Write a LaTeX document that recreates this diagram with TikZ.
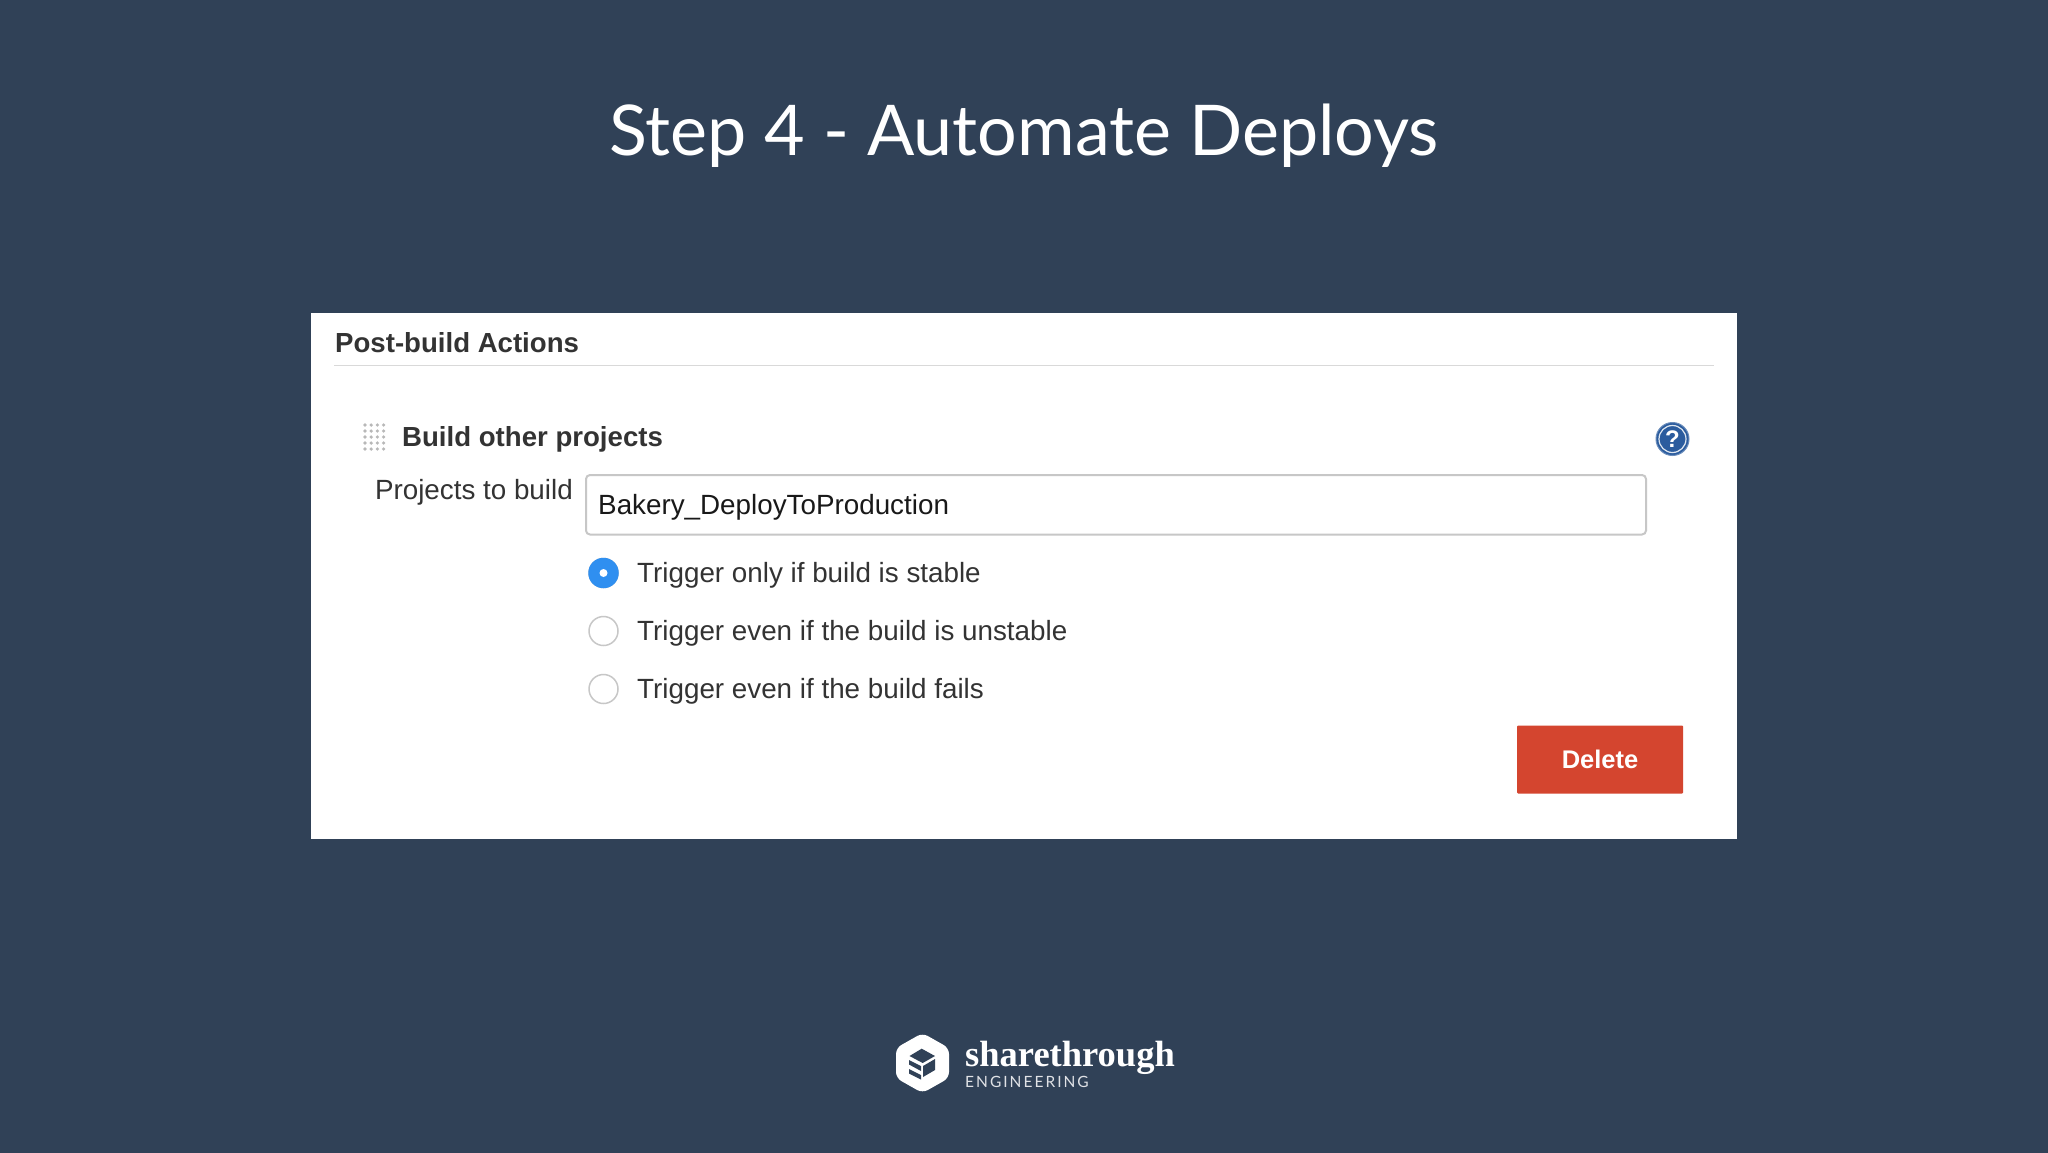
\documentclass[tikz,border=0pt]{standalone}
\usepackage{fontspec}
\setmainfont{Liberation Sans}
\newfontfamily\titlefont{Lato}
\newfontfamily\logofont{Liberation Serif}
\usetikzlibrary{positioning}
\definecolor{slidebg}{HTML}{304157}
\definecolor{formtext}{HTML}{333333}
\definecolor{radioblue}{HTML}{2F8FF0}
\definecolor{deletered}{HTML}{D4452F}
\definecolor{helpblue}{HTML}{2B5C9E}
\begin{document}
\begin{tikzpicture}[x=1pt,y=-1pt,
  label/.style={inner sep=0pt,text=formtext,font=\fontsize{27.8}{32}\selectfont},
  heading/.style={label,font=\fontsize{27.6}{32}\selectfont\bfseries},
  radio/.style={draw=black!22,line width=1.5pt,fill=white,circle,inner sep=0pt,minimum size=29pt},
  dot/.style={fill=black!28,circle,inner sep=0pt,minimum size=3.6pt}]
\useasboundingbox (0,0) rectangle (2048,1152);
\fill[slidebg] (-5,-5) rectangle (2053,1157);
\node[text=white,inner sep=0pt,anchor=base,font=\titlefont\fontsize{70}{80}\selectfont] (title) at (1024,155) {Step 4 - Automate Deploys};
\node[fill=white,inner sep=0pt,minimum width=1426pt,minimum height=525.5pt,anchor=north west] (panel) at (311,313) {};
\node[heading,anchor=base west] (actions) at (335,352) {Post-build Actions};
\coordinate (ruleL) at (334,365.5);
\coordinate (ruleR) at (1714,365.5);
\draw[black!15,line width=1.5pt] (ruleL) -- (ruleR);
\foreach \i in {0,...,3} {
  \foreach \j in {0,...,4} {
    \node[dot] (grip\i\j) at (365+6.2*\i,425+6*\j) {};
  }
}
\node[heading,anchor=base west] (build) at (402,446) {Build other projects};
\node[circle,fill=helpblue,draw=helpblue!70,line width=1pt,inner sep=0pt,minimum size=33pt] (help) at (1672.5,439) {};
\node[circle,draw=white!85!helpblue,line width=1.2pt,inner sep=0pt,minimum size=27pt,text=white,font=\fontsize{24}{24}\selectfont\bfseries] (helpring) at (help) {?};
\node[label,anchor=base east] (projects) at (573,499) {Projects to build};
\node[draw=black!22,line width=2pt,rounded corners=4pt,fill=white,minimum width=1060pt,minimum height=59.5pt,inner sep=0pt,anchor=north west] (input) at (585,474) {};
\node[label,text=black!90,anchor=base west] (project) at (598,514) {Bakery\_DeployToProduction};
\foreach \i/\y/\t in {1/573/Trigger only if build is stable,2/631/Trigger even if the build is unstable,3/689/Trigger even if the build fails} {
  \node[radio] (radio\i) at (603.5,\y) {};
  \node[label,anchor=base west] (trigger\i) at (637,\y+9) {\t};
}
\node[radio,draw=radioblue,fill=radioblue] at (radio1) {};
\node[fill=white,circle,inner sep=0pt,minimum size=8pt] (radiodot) at (radio1) {};
\node[fill=deletered,rounded corners=1pt,inner sep=0pt,minimum width=166pt,minimum height=68pt,text=white,font=\fontsize{25.5}{30}\selectfont\bfseries] (delete) at (1600,759.5) {Delete};
% logo
\fill[white,rounded corners=6pt] (922.5,1033) -- (949,1048) -- (949,1078) -- (922.5,1093) -- (896,1078) -- (896,1048) -- cycle;
\fill[slidebg] (909.5,1056) -- (921.7,1048.7) -- (935,1056) -- (922.7,1063) -- cycle;
\fill[slidebg] (909,1060) -- (921,1066) -- (921,1071) -- (909,1064.5) -- cycle;
\fill[slidebg] (935,1059) -- (935,1070) -- (923,1077) -- (923,1066) -- cycle;
\fill[slidebg] (909,1069) -- (921,1075) -- (921,1079.5) -- (909,1073.5) -- cycle;
\node[text=white,inner sep=0pt,anchor=base west,font=\logofont\fontsize{36.5}{40}\selectfont\bfseries] (share) at (965,1066) {sharethrough};
\node[text=white!85!slidebg,inner sep=0pt,anchor=base west,font=\titlefont\fontsize{15.5}{18}\selectfont\addfontfeature{LetterSpace=13}] (engineering) at (965,1087) {ENGINEERING};
\end{tikzpicture}
\end{document}
